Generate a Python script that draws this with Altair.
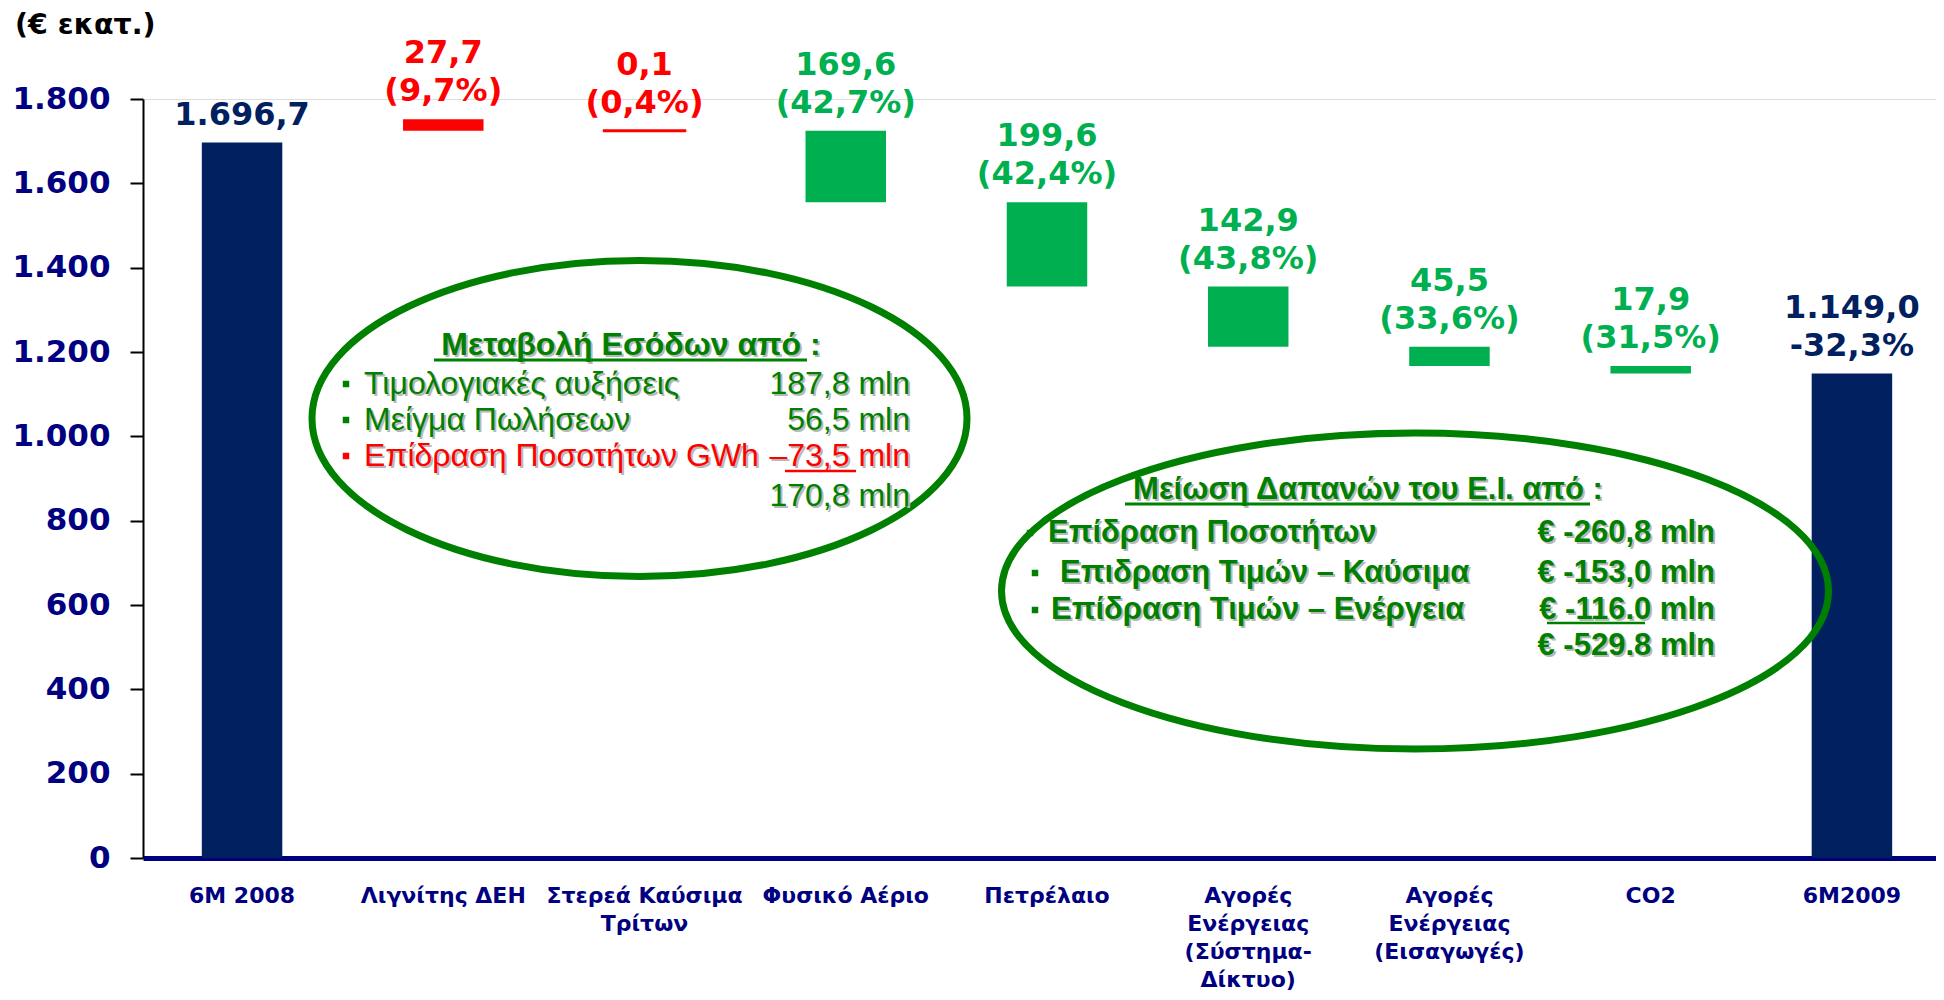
import altair as alt
import pandas as pd

# ---------------- data ----------------
categories = ["6M 2008", "Λιγνίτης ΔΕΗ", "Στερεά Καύσιμα|Τρίτων", "Φυσικό Αέριο", "Πετρέλαιο",
              "Αγορές|Ενέργειας|(Σύστημα-|Δίκτυο)", "Αγορές|Ενέργειας|(Εισαγωγές)", "CO2", "6M2009"]
start_value = 1696.7
deltas = [27.7, 0.1, -169.6, -199.6, -142.9, -45.5, -17.9]
pct_labels = ["(9,7%)", "(0,4%)", "(42,7%)", "(42,4%)", "(43,8%)", "(33,6%)", "(31,5%)"]
end_pct_label = "-32,3%"
y_ticks = [0, 200, 400, 600, 800, 1000, 1200, 1400, 1600, 1800]

box1_title = "Μεταβολή Εσόδων από :"
box1_rows = ["Τιμολογιακές αυξήσεις", "Μείγμα Πωλήσεων", "Επίδραση Ποσοτήτων GWh"]
box1_values = ["187,8 mln", "56,5 mln", "–73,5 mln", "170,8 mln"]
box2_title = "Μείωση Δαπανών του Ε.Ι. από :"
box2_rows = ["Επίδραση Ποσοτήτων", "Επιδραση Τιμών – Καύσιμα", "Επίδραση Τιμών – Ενέργεια"]
box2_values = ["€ -260,8 mln", "€ -153,0 mln", "€ -116.0 mln", "€ -529.8 mln"]


def gr(v):
    s = f"{abs(v):,.1f}"
    return s.replace(",", "X").replace(".", ",").replace("X", ".")


end_value = round(start_value + sum(deltas), 1)
level = start_value + sum(d for d in deltas if d > 0)
rows = [dict(cat=categories[0], lo=0, hi=start_value, kind="total", top="", bottom=gr(start_value))]
for cat, d, p in zip(categories[1:-1], deltas, pct_labels):
    if d > 0:
        lo, hi, kind = level, level + d, "up"
    else:
        lo, hi, kind = level + d, level, "down"
        level = level + d
    rows.append(dict(cat=cat, lo=lo, hi=hi, kind=kind, top=gr(d), bottom=p))
rows.append(dict(cat=categories[-1], lo=0, hi=end_value, kind="total",
                 top=gr(end_value), bottom=end_pct_label))
df = pd.DataFrame(rows)
df["thin"] = (df["hi"] - df["lo"]) < 1

W, H = 1793, 759
NAVY = "#002060"
GREEN = "#00B050"
RED = "#FF0000"
DKGREEN = "#008000"

color_scale = alt.Scale(domain=["total", "up", "down"], range=[NAVY, RED, GREEN])
xenc = alt.X("cat:N", sort=categories,
             scale=alt.Scale(paddingInner=0.6, paddingOuter=0.255, align=0.573),
             axis=alt.Axis(title=None, labels=False, ticks=False, domainColor="#000080",
                           domainWidth=5))
yscale = alt.Scale(domain=[0, 1800], nice=False, zero=True)

base = alt.Chart(df)

bars = base.mark_bar().encode(
    x=xenc,
    y=alt.Y("lo:Q", scale=yscale,
            axis=alt.Axis(title=None, values=y_ticks, grid=False, domainColor="black",
                          domainWidth=2, tickColor="black", tickWidth=2, tickSize=13,
                          labelFont="DejaVu Sans", labelFontWeight="bold", labelFontSize=31,
                          labelColor="#000080", labelPadding=20,
                          labelExpr="replace(format(datum.value, ','), ',', '.')")),
    y2="hi:Q",
    color=alt.Color("kind:N", scale=color_scale, legend=None),
    stroke=alt.Color("kind:N", scale=color_scale, legend=None),
    strokeWidth=alt.condition("datum.thin", alt.value(3), alt.value(0)),
)


def value_layer(field, dy):
    return base.mark_text(font="DejaVu Sans", fontWeight="bold", fontSize=32,
                          baseline="bottom", dy=dy).encode(
        x=alt.X("cat:N", sort=categories),
        y=alt.Y("hi:Q", scale=yscale),
        text=f"{field}:N",
        color=alt.Color("kind:N", scale=color_scale, legend=None),
    )


value_bottom = value_layer("bottom", -11)
value_top = value_layer("top", -49)

x_labels = base.mark_text(font="DejaVu Sans", fontWeight="bold", fontSize=22,
                          baseline="top", lineBreak="|", lineHeight=28, color="#000080").encode(
    x=alt.X("cat:N", sort=categories),
    y=alt.value(787),
    text="cat:N",
)

one = pd.DataFrame({"k": [0]})


def txt(s, px, py, color, size=30, weight="normal", align="left", font="Liberation Sans",
        shadow=False, baseline="middle"):
    layers = []
    if shadow:
        layers.append(alt.Chart(one).mark_text(font=font, fontSize=size, fontWeight=weight,
                                               align=align, baseline=baseline,
                                               color="#b8b8b8").encode(
            x=alt.value(px + 2), y=alt.value(py + 2), text=alt.value(s)))
    layers.append(alt.Chart(one).mark_text(font=font, fontSize=size, fontWeight=weight,
                                           align=align, baseline=baseline,
                                           color=color).encode(
        x=alt.value(px), y=alt.value(py), text=alt.value(s)))
    return layers


def rule(x1, x2, y, color, width=2.5):
    return alt.Chart(one).mark_rule(color=color, strokeWidth=width).encode(
        x=alt.value(x1), x2=alt.value(x2), y=alt.value(y))


def ellipse(cx, cy, rx, ry, color=DKGREEN, width=7):
    b = ry / rx
    k = 0.5523
    path = (f"M -1 0 C -1 {-k*b:.4f} {-k:.4f} {-b:.4f} 0 {-b:.4f} "
            f"C {k:.4f} {-b:.4f} 1 {-k*b:.4f} 1 0 "
            f"C 1 {k*b:.4f} {k:.4f} {b:.4f} 0 {b:.4f} "
            f"C {-k:.4f} {b:.4f} -1 {k*b:.4f} -1 0 Z")
    return alt.Chart(one).mark_point(shape=path, filled=False, stroke=color,
                                     strokeWidth=width, size=(2 * rx) ** 2, opacity=1).encode(
        x=alt.value(cx), y=alt.value(cy))


def bullet(px, py, color):
    return alt.Chart(one).mark_square(color=color, size=42, opacity=1).encode(
        x=alt.value(px), y=alt.value(py))


ann = []
# unit title
ann += txt("(€ εκατ.)", -128, -74, "black", size=28.5, weight="bold", font="DejaVu Sans")

# ellipse 1
ann.append(ellipse(496.5, 319.5, 327.5, 158))
ann += txt(box1_title, 488, 246, DKGREEN, size=32, weight="bold", align="center", shadow=True)
ann.append(rule(291, 664, 261, DKGREEN, 3))
row_y1 = [285, 321, 357]
row_cols1 = [DKGREEN, DKGREEN, RED]
for s, yy, c in zip(box1_rows, row_y1, row_cols1):
    ann.append(bullet(203, yy, c))
    ann += txt(s, 221, yy, c, size=32, shadow=True)
for s, yy, c in zip(box1_values, row_y1 + [397], [DKGREEN, DKGREEN, RED, DKGREEN]):
    ann += txt(s, 767, yy, c, size=32, align="right", shadow=True)
ann.append(rule(642, 713, 372, RED, 2.5))

# ellipse 2
ann.append(ellipse(1272, 492, 413.5, 158))
ann += txt(box2_title, 1225, 391, DKGREEN, size=31, weight="bold", align="center", shadow=True)
ann.append(rule(982, 1447, 405, DKGREEN, 3))
row_y2 = [434, 474, 511]
bul_x2 = [887, 892, 892]
lab_x2 = [905, 917, 908]
for s, yy, bx, lx in zip(box2_rows, row_y2, bul_x2, lab_x2):
    ann.append(bullet(bx, yy, DKGREEN))
    ann += txt(s, lx, yy, DKGREEN, size=31, weight="bold", shadow=True)
for s, yy in zip(box2_values, row_y2 + [547]):
    ann += txt(s, 1572, yy, DKGREEN, size=31, weight="bold", align="right", shadow=True)
ann.append(rule(1404, 1502, 524, DKGREEN, 2.5))

chart = alt.layer(bars, value_bottom, value_top, x_labels, *ann).properties(
    width=W, height=H,
    autosize=alt.AutoSizeParams(type="none"),
    padding={"left": 135, "top": 91, "right": 0, "bottom": 133},
).configure_view(stroke=None).configure(background="white")

chart.save("out.html", embed_options={"renderer": "svg", "actions": False})
